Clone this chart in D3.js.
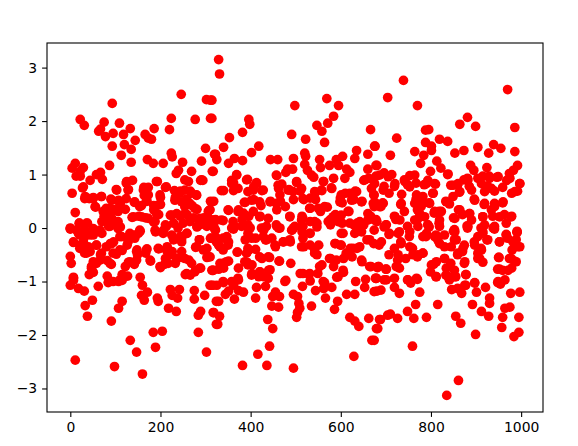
<!DOCTYPE html>
<html><head><meta charset="utf-8">
<script src="https://d3js.org/d3.v7.min.js"></script>
<style>html,body{margin:0;padding:0;background:#fff}svg{display:block}</style>
</head><body><div id="c"></div>
<script>
const xTicks=[0,200,400,600,800,1000];
const yTicks=[-3,-2,-1,0,1,2,3];
const pointsTopLeft=[[93,2.33],[22,2.03],[31,1.92],[75,1.98],[63,1.81],[67,1.85],[78,1.71],[95,1.77],[109,1.96],[133,1.86],[118,1.75],[144,1.64],[120,1.56],[93,1.53],[135,1.47],[113,1.36],[135,1.23],[166,1.75],[186,1.86],[173,1.68],[180,1.66],[224,2.05],[220,1.84],[246,2.5],[277,2.03],[311,2.05],[302,2.4],[311,2.39],[300,1.49],[224,1.4],[226,1.33],[171,1.28],[184,1.21],[206,1.21],[249,1.23],[291,1.25],[320,1.38],[240,1.08],[235,1.02],[269,1.06],[262,.87],[289,.89],[294,.89],[315,1.06],[11,1.21],[4,1.12],[29,1.13],[22,1.06],[13,.97],[22,.97],[87,1.17],[67,1.04],[58,1],[44,.89],[71,.91],[138,.89],[124,.84],[193,.87],[102,.72],[129,.72],[27,.75],[4,.65],[33,.59],[42,.55],[51,.57],[69,.59],[56,.39],[11,.29],[0,0],[20,.09],[38,.09],[90,.54],[107,.52],[163,.76],[173,.76],[211,.76],[231,.7],[244,.69],[266,.69],[280,.61],[164,.61],[200,.57],[233,.57],[258,.54],[311,.5],[170,.5],[142,.48],[124,.55],[111,.47],[80,.37],[100,.35],[122,.35],[158,.42],[185,.42],[200,.44],[281,.35],[270,.42],[308,.33],[75,.22],[89,.22],[137,.2],[152,.22],[167,.19],[185,.34],[196,.25],[222,.24],[244,.22],[259,.25],[274,.19],[296,.19],[311,.16],[70,.12],[104,.09],[85,.03],[111,.02],[185,.11],[211,.06],[229,.09],[281,.03],[303,.03],[318,.06]];
const pointsBottomLeft=[[11,-2.47],[98,-2.59],[160,-2.73],[147,-2.32],[133,-2.1],[189,-2.23],[184,-1.95],[204,-1.93],[284,-1.95],[302,-2.32],[91,-1.74],[38,-1.65],[33,-1.45],[49,-1.35],[107,-1.5],[115,-1.37],[164,-1.35],[158,-1.26],[171,-1.2],[160,-1.07],[155,-.92],[193,-1.31],[195,-1.37],[218,-1.5],[235,-1.56],[222,-1.15],[242,-1.15],[226,-1.26],[238,-1.31],[275,-1.17],[275,-1.33],[298,-1.26],[289,-1.56],[284,-1.63],[317,-1.58],[324,-1.8],[324,-1.37],[313,-1.07],[0,-1.07],[7,-.92],[7,-.98],[18,-1.13],[31,-1.18],[62,-1.09],[82,-.9],[84,-1.02],[107,-1],[115,-.98],[115,-.87],[127,-.9],[42,-.87],[51,-.83],[0,-.53],[2,-.66],[47,-.72],[58,-.66],[67,-.5],[82,-.61],[91,-.68],[102,-.49],[115,-.42],[122,-.72],[129,-.64],[142,-.68],[149,-.5],[167,-.47],[178,-.62],[200,-.74],[209,-.68],[233,-.66],[244,-.55],[263,-.6],[289,-.75],[278,-.79],[266,-.88],[255,-.87],[316,-.79],[303,-.55],[278,-.36],[286,-.22],[311,-.19],[303,-.38],[58,-.32],[36,-.47],[44,-.44],[7,-.27],[22,-.32],[30,-.19],[0,-.02],[18,-.1],[44,-.13],[70,-.1],[89,-.29],[96,-.26],[110,-.16],[129,-.22],[141,-.13],[155,-.06],[189,-.07],[207,-.04],[229,-.22],[244,-.16],[259,-.1],[148,-.41],[170,-.39],[196,-.39],[215,-.35],[226,-.44],[211,-.57],[126,-.32],[281,.02],[318,.02]];
const pointsTopMiddle=[[329,3.15],[331,2.88],[498,2.29],[569,2.42],[595,2.29],[584,2.09],[571,1.96],[547,1.92],[558,1.81],[491,1.75],[522,1.66],[564,1.6],[666,1.84],[675,1.53],[396,2.03],[398,1.94],[382,1.79],[353,1.69],[340,1.51],[418,1.53],[402,1.41],[382,1.26],[364,1.3],[351,1.21],[322,1.38],[325,1.28],[314,2.39],[314,2.05],[317,1.06],[444,1.28],[460,1.28],[495,1.3],[520,1.4],[522,1.34],[553,1.28],[520,1.19],[526,1.08],[540,.95],[555,1.13],[575,1.17],[595,1.17],[604,1.34],[590,1.28],[635,1.45],[631,1.3],[660,1.38],[680,1.17],[660,1.1],[613,1.1],[620,1.04],[609,.93],[584,.93],[562,.87],[580,.74],[482,1.1],[493,1.1],[478,1.04],[458,.98],[469,.82],[502,.85],[369,1],[393,.91],[413,.85],[358,.89],[362,.85],[340,.7],[362,.7],[407,.78],[425,.7],[462,.74],[485,.72],[510,.69],[558,.7],[544,.67],[651,.89],[662,.93],[632,.69],[610,.65],[599,.56],[629,.53],[647,.5],[673,.62],[677,.47],[388,.48],[407,.53],[423,.42],[444,.5],[466,.5],[495,.53],[518,.53],[532,.56],[544,.53],[532,.37],[555,.31],[570,.39],[603,.47],[351,.33],[318,.5],[310,.34],[373,.34],[384,.28],[396,.22],[421,.22],[458,.34],[477,.4],[487,.22],[514,.22],[532,.12],[547,.09],[577,.16],[588,.25],[618,.31],[603,.09],[636,.09],[666,.22],[680,.12],[322,.16],[339,.14],[362,.06],[381,.16],[399,0],[429,0],[458,.03],[495,0],[514,.03],[629,.06],[651,.06]];
const pointsBottomMiddle=[[382,-2.57],[436,-2.57],[416,-2.36],[442,-2.21],[495,-2.62],[629,-2.4],[669,-2.1],[449,-1.88],[438,-1.71],[327,-1.8],[331,-1.65],[318,-1.58],[502,-1.67],[504,-1.58],[509,-1.5],[507,-1.41],[504,-1.28],[495,-1.24],[535,-1.46],[447,-1.46],[462,-1.48],[449,-1.28],[455,-1.2],[464,-1.28],[411,-1.31],[364,-1.33],[329,-1.37],[344,-1.24],[351,-1.18],[384,-1.2],[373,-1.17],[413,-1.11],[433,-1.09],[478,-.98],[515,-1.09],[544,-1.17],[566,-1.31],[564,-1.02],[580,-1.11],[562,-1.13],[593,-1.37],[586,-1.52],[620,-1.67],[631,-1.74],[640,-1.84],[662,-1.69],[682,-1.88],[686,-1.71],[613,-1.24],[631,-1.24],[680,-1.18],[653,-1.11],[655,-.96],[633,-1],[677,-.94],[591,-.92],[606,-.83],[549,-.85],[510,-.85],[529,-.87],[532,-.99],[373,-.75],[340,-.75],[329,-.77],[314,-.79],[310,-1.07],[325,-1.07],[340,-1.02],[362,-1.07],[373,-.97],[403,-.85],[421,-.82],[440,-.79],[429,-.91],[418,-.91],[489,-.66],[464,-.62],[442,-.55],[425,-.57],[392,-.64],[403,-.69],[351,-.62],[340,-.66],[371,-.45],[396,-.41],[411,-.4],[351,-.26],[347,-.16],[325,-.19],[329,-.32],[310,-.54],[388,-.22],[411,-.19],[433,-.22],[455,-.35],[447,-.19],[473,-.26],[488,-.26],[518,-.35],[532,-.32],[532,-.1],[514,-.07],[492,-.04],[547,-.5],[551,-.32],[588,-.29],[599,-.32],[605,-.1],[577,-.57],[558,-.69],[584,-.72],[606,-.57],[625,-.54],[647,-.63],[636,-.38],[621,-.38],[658,-.22],[673,-.29],[667,-.72],[684,-.72],[462,0],[429,-.04],[396,-.02],[362,-.02],[322,-.04],[636,-.04],[577,.06],[547,.02]];
const pointsTopRight=[[739,2.76],[704,2.44],[770,2.29],[970,2.59],[881,2.07],[864,1.94],[899,1.9],[986,1.88],[795,1.84],[788,1.83],[724,1.68],[788,1.6],[819,1.66],[837,1.62],[801,1.53],[801,1.45],[764,1.43],[784,1.36],[710,1.36],[777,1.21],[813,1.25],[822,1.12],[837,1],[799,1.06],[753,.98],[853,1.4],[873,1.45],[904,1.51],[928,1.4],[939,1.56],[955,1.49],[986,1.43],[676,1.53],[888,1.17],[895,1.08],[924,1.13],[946,.95],[992,1.17],[983,1.08],[974,1.02],[968,.89],[997,.83],[992,.69],[979,.65],[959,.76],[941,.69],[915,.97],[929,.97],[926,.78],[904,.93],[881,.93],[873,.9],[678,1.17],[713,1],[696,1.03],[678,.97],[741,.9],[767,.84],[793,.89],[810,.82],[785,.81],[804,.65],[844,.8],[859,.81],[863,.67],[885,.78],[896,.54],[719,.78],[707,.65],[696,.78],[735,.63],[748,.81],[674,.62],[767,.54],[833,.5],[841,.45],[796,.47],[733,.44],[689,.4],[674,.4],[693,.47],[918,.44],[959,.47],[941,.4],[778,.4],[741,.31],[861,.34],[818,.31],[807,.28],[770,.34],[979,.22],[963,.25],[937,.22],[915,.21],[885,.27],[870,.25],[850,.19],[880,.04],[719,.22],[700,.06],[722,.16],[678,.16],[748,.03],[770,.16],[793,.06],[818,.09],[852,-.03],[911,0],[941,.03],[967,.09],[991,-.06]];
const pointsBottomRight=[[835,-3.13],[861,-2.85],[759,-2.21],[899,-1.99],[984,-2.03],[995,-1.95],[957,-1.86],[866,-1.78],[855,-1.65],[790,-1.67],[762,-1.69],[748,-1.56],[766,-1.43],[815,-1.43],[726,-1.69],[710,-1.61],[704,-1.63],[688,-1.71],[679,-1.88],[674,-2.1],[892,-1.43],[912,-1.56],[928,-1.65],[930,-1.31],[930,-1.41],[959,-1.67],[964,-1.5],[975,-1.48],[995,-1.67],[977,-1.22],[997,-1.2],[921,-1.11],[901,-1.2],[897,-1.02],[877,-.87],[877,-1.07],[868,-1.22],[846,-1.15],[859,-1.13],[775,-1.2],[730,-1.22],[719,-1.11],[689,-1.16],[674,-1.19],[770,-.96],[748,-.97],[755,-1.03],[678,-.94],[696,-.97],[719,-.94],[700,-.77],[681,-.74],[730,-.75],[948,-1.02],[954,-1.05],[964,-.97],[979,-.75],[959,-.79],[948,-.77],[985,-.62],[974,-.57],[950,-.55],[915,-.64],[904,-.57],[904,-.47],[855,-.91],[841,-.97],[833,-.88],[811,-.91],[799,-.82],[806,-.68],[830,-.57],[844,-.66],[852,-.79],[874,-.66],[859,-.5],[870,-.44],[911,-.38],[874,-.32],[896,-.26],[924,-.22],[952,-.26],[997,-.35],[980,-.41],[970,-.19],[989,-.22],[991,-.08],[967,-.12],[941,-.02],[915,-.1],[850,-.06],[852,-.22],[830,-.35],[815,-.22],[782,-.47],[770,-.54],[759,-.38],[744,-.57],[752,-.16],[733,-.26],[719,-.38],[726,-.6],[707,-.5],[707,-.12],[685,-.32],[789,-.16],[811,-.13],[730,-.07],[674,-.04],[696,.02],[796,.02],[881,0]];
const pointsBandA=[[29,.77],[32,.55],[51,.55],[69,.59],[55,.4],[92,.52],[110,.43],[103,.71],[128,.71],[125,.87],[162,.71],[191,.87],[213,.77],[173,.62],[199,.62],[169,.52],[143,.49],[154,.4],[195,.43],[191,.27],[73,.31],[88,.37],[106,.31],[77,.15],[92,.18],[106,.12],[140,.21],[158,.21],[173,.18],[188,.12],[225,.24],[236,.27],[243,.65],[232,.52],[254,.4],[20,.09],[36,.09],[0,-.01],[14,-.04],[32,-.04],[51,-.01],[66,-.04],[88,.03],[106,-.01],[51,-.13],[21,-.13],[7,-.26],[29,-.26],[40,-.35],[21,-.38],[32,-.47],[58,-.32],[92,-.29],[80,-.35],[110,-.41],[95,-.47],[69,-.47],[51,-.63],[66,-.6],[47,-.75],[88,-.66],[114,-.16],[132,-.1],[154,-.04],[151,-.1],[128,-.26],[143,-.19],[147,-.44],[169,-.41],[147,-.6],[177,-.6],[195,-.38],[213,-.41],[199,-.72],[225,-.5],[236,-.57],[247,-.44],[213,.03],[206,-.1],[188,-.04],[225,-.13],[239,0],[247,-.26],[217,-.66],[132,-.63],[110,-.97],[95,-1],[7,-.94]];
const pointsBandB=[[254,.9],[291,.9],[335,.7],[358,.83],[369,.99],[391,.9],[413,.83],[406,.71],[428,.71],[372,.74],[394,.68],[457,.99],[461,.8],[502,.87],[483,.71],[465,.62],[494,.68],[513,.74],[457,.46],[443,.49],[420,.49],[402,.52],[386,.48],[313,.49],[280,.62],[269,.65],[254,.71],[247,.49],[265,.46],[276,.37],[254,.27],[350,.34],[372,.31],[387,.24],[406,.31],[420,.21],[306,.31],[287,.18],[302,.15],[321,.15],[335,.15],[265,.12],[250,.09],[287,.06],[306,.06],[361,.12],[358,0],[380,.03],[394,.06],[439,.18],[435,.03],[424,0],[457,.06],[465,0],[487,.21],[498,.03],[513,.15],[491,-.04],[321,-.03],[258,-.1],[247,-.2],[394,-.1],[402,-.19],[428,-.16],[435,-.22],[454,-.32],[287,-.22],[280,-.35],[295,-.41],[306,-.54],[313,-.19],[324,-.26],[339,-.19],[350,-.32],[332,-.35],[339,-.41],[370,-.45],[394,-.38],[391,-.47],[420,-.54],[439,-.54],[472,-.26],[487,-.22],[513,-.35],[463,-.62],[332,-.66],[346,-.63],[387,-.63],[394,-.69],[317,-.79],[287,-.75],[254,-.57],[269,-.66],[420,-.82],[402,-.88],[443,-.78],[439,-.94],[476,-1],[258,-.85],[276,-.82],[339,-1],[358,-1],[372,-.94],[317,-1.07]];
const pointsBandC=[[535,.99],[561,.87],[579,.75],[542,.68],[557,.71],[516,.55],[601,.62],[620,.65],[635,.68],[598,.49],[624,.52],[646,.49],[653,.9],[668,.74],[686,.99],[705,.96],[720,.83],[675,.83],[694,.71],[742,.87],[764,.99],[753,.77],[768,.62],[734,.46],[672,.46],[686,.4],[694,.46],[764,.46],[775,.27],[764,.15],[531,.37],[550,.37],[564,.4],[616,.31],[601,.24],[583,.21],[572,.12],[594,.12],[516,.18],[542,.12],[720,.21],[701,.06],[731,.15],[675,.15],[660,.27],[642,.12],[660,.15],[620,.09],[516,.03],[531,-.1],[516,-.19],[601,-.1],[646,-.07],[631,-.1],[664,-.22],[708,-.1],[727,-.1],[753,-.07],[771,.03],[782,-.16],[690,-.26],[734,-.29],[753,-.35],[587,-.29],[601,-.32],[542,-.47],[542,-.41],[642,-.35],[627,-.38],[612,-.47],[646,-.6],[575,-.57],[590,-.6],[553,-.72],[605,-.79],[594,-.91],[664,-.72],[683,-.72],[701,-.77],[760,-.5],[771,-.5],[727,-.5],[723,-.72],[679,-.94],[561,-1],[531,-.85],[516,-.85],[749,-.97],[768,-.94],[701,-.97]];
const pointsBandD=[[838,1.01],[790,.83],[808,.83],[849,.8],[860,.83],[882,.9],[912,.83],[930,.93],[949,.96],[975,.93],[997,.83],[986,.68],[864,.68],[890,.71],[919,.68],[934,.74],[805,.65],[782,.59],[849,.59],[834,.49],[897,.52],[919,.46],[941,.46],[960,.49],[797,.46],[782,.46],[808,.31],[823,.31],[864,.34],[886,.27],[934,.34],[915,.21],[952,.21],[978,.21],[853,.18],[819,.15],[890,.15],[882,.03],[938,0],[786,.21],[793,.06],[819,.03],[853,-.07],[919,.06],[915,-.07],[967,-.13],[991,-.08],[790,-.1],[808,-.16],[830,-.13],[856,-.22],[904,-.16],[926,-.22],[952,-.26],[982,-.26],[993,-.35],[819,-.29],[845,-.35],[871,-.38],[897,-.32],[860,-.47],[912,-.41],[908,-.57],[782,-.47],[830,-.57],[812,-.63],[875,-.63],[951,-.55],[978,-.57],[989,-.63],[801,-.69],[952,-.77],[971,-.79],[834,-.75],[853,-.91],[878,-.87],[812,-.91],[838,-.91],[949,-1],[897,-1.03],[875,-1.07]];
const points=[...pointsTopLeft,...pointsBottomLeft,...pointsTopMiddle,...pointsBottomMiddle,...pointsTopRight,...pointsBottomRight,...pointsBandA,...pointsBandB,...pointsBandC,...pointsBandD];

const W=578,H=446,L=47,R=543,T=43,B=412;
const x=d3.scaleLinear().domain([-51.7,1048.5]).range([L,R]);
const y=d3.scaleLinear().domain([-3.44,3.46]).range([B,T]);
const svg=d3.select("#c").append("svg").attr("width",W).attr("height",H);
svg.append("g").selectAll("circle").data(points).join("circle")
 .attr("cx",d=>x(d[0])).attr("cy",d=>y(d[1])).attr("r",4.85).attr("fill","#ff0000");
const font="'DejaVu Sans'";
const gx=svg.append("g").attr("transform",`translate(0,${B})`)
 .call(d3.axisBottom(x).tickValues(xTicks).tickSize(4.9).tickPadding(4.9).tickFormat(d3.format("d")));
const gy=svg.append("g").attr("transform",`translate(${L},0)`)
 .call(d3.axisLeft(y).tickValues(yTicks).tickSize(4.9).tickPadding(4.9).tickFormat(d=>String(d).replace("-","\u2212")));
for(const g of [gx,gy]){
 g.select(".domain").remove();
 g.selectAll("line").attr("stroke","#000").attr("stroke-width",1.1);
 g.selectAll("text").attr("fill","#000").style("font-family",font).style("font-size","13.9px");
}
svg.append("rect").attr("x",L).attr("y",T).attr("width",R-L).attr("height",B-T)
 .attr("fill","none").attr("stroke","#000").attr("stroke-width",1.1);
</script></body></html>
